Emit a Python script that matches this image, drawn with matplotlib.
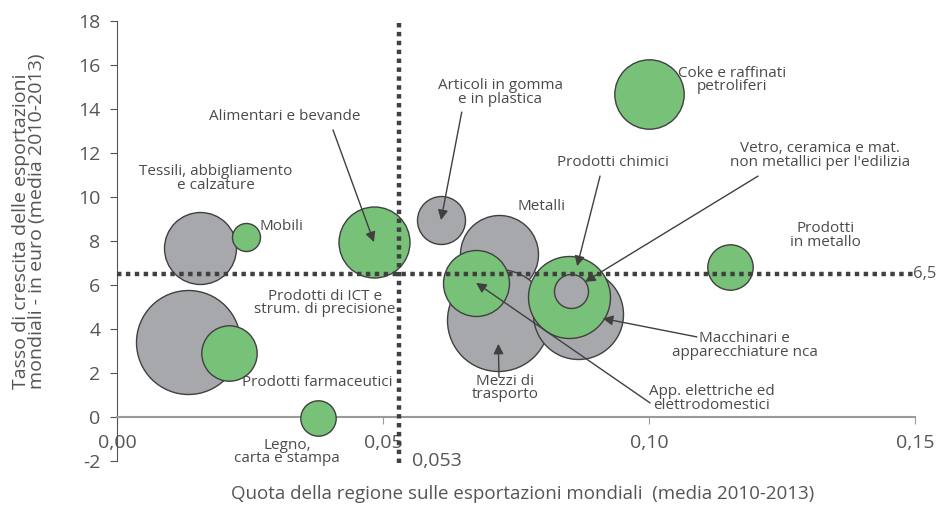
import matplotlib.pyplot as plt

plt.rcParams["font.family"] = ["Open Sans", "DejaVu Sans"]
plt.rcParams["axes.unicode_minus"] = False

# Settori: quota sulle esportazioni mondiali, tasso di crescita, dimensione bolla
SETTORI = [
    "Metalli", "Mezzi di trasporto", "Macchinari e apparecchiature nca",
    "Prodotti di ICT e strum. di precisione", "Tessili, abbigliamento e calzature",
    "Articoli in gomma e in plastica",
    "Mobili", "Alimentari e bevande", "Prodotti farmaceutici",
    "Legno, carta e stampa", "App. elettriche ed elettrodomestici",
    "Prodotti chimici", "Prodotti in metallo", "Coke e raffinati petroliferi",
    "Vetro, ceramica e mat. non metallici per l'edilizia",
]
QUOTA = [0.0718, 0.0716, 0.0867, 0.0133, 0.0156, 0.0609,
         0.0242, 0.0483, 0.0211, 0.0378, 0.0675, 0.0850, 0.1152, 0.1000,
         0.0853]
CRESCITA = [7.4, 4.4, 4.7, 3.4, 7.7, 8.95,
            8.2, 7.95, 2.9, -0.05, 6.1, 5.45, 6.8, 14.7,
            5.75]
DIMENSIONE = [39, 51, 45, 52, 36, 24,
              14, 35.5, 27.7, 17.7, 33, 41, 22.7, 34.7,
              17]
SPECIALIZZATO = [False, False, False, False, False, False,
                 True, True, True, True, True, True, True, True,
                 False]

SOGLIA_X = 0.053
SOGLIA_Y = 6.5

Y_TICKS = list(range(-2, 19, 2))
X_TICKS = [0.0, 0.05, 0.10, 0.15]
X_TICK_LABELS = ["0,00", "0,05", "0,10", "0,15"]

VERDE = "#78C178"
GRIGIO = "#A7A8AC"
BORDO = "#404040"
TESTO = "#555555"

fig = plt.figure(figsize=(9.39, 5.05), dpi=100)
ax = fig.add_axes([117 / 939, 44 / 505, 798 / 939, 440 / 505])
ax.set_xlim(0, 0.15)
ax.set_ylim(-2, 18)

for spine in ("top", "right"):
    ax.spines[spine].set_visible(False)
ax.spines["bottom"].set_position(("data", 0))
ax.spines["bottom"].set_color("#9a9a9a")
ax.spines["bottom"].set_linewidth(1.5)
ax.spines["left"].set_color(TESTO)

ax.set_yticks(Y_TICKS)
ax.set_yticklabels([str(v) for v in Y_TICKS])
ax.set_xticks(X_TICKS)
ax.set_xticklabels(X_TICK_LABELS)
ax.tick_params(axis="y", direction="out", length=5, pad=7, colors=TESTO, labelsize=14)
ax.tick_params(axis="x", direction="out", length=5, pad=7, colors="#9a9a9a",
               labelcolor=TESTO, labelsize=14)

# soglie
ax.plot([SOGLIA_X, SOGLIA_X], [-2.1, 18], color=BORDO, lw=3.2,
        linestyle=(0, (1, 1)), clip_on=False, zorder=5)
ax.plot([0, 0.15], [SOGLIA_Y, SOGLIA_Y], color=BORDO, lw=3.2,
        linestyle=(0, (1, 1)), clip_on=False, zorder=5)
ax.text(0.1497, SOGLIA_Y, "6,5", ha="left", va="center", fontsize=12, color=TESTO)
ax.text(0.0555, -2.0, "0,053", ha="left", va="center", fontsize=14, color=TESTO)

# bolle
for i, (x, y, r, spec) in enumerate(zip(QUOTA, CRESCITA, DIMENSIONE, SPECIALIZZATO)):
    ax.scatter(x, y, s=(2 * r * 0.72) ** 2, color=VERDE if spec else GRIGIO,
               edgecolor=BORDO, linewidth=1, zorder=3 + i * 0.01, clip_on=False)

# etichette (posizioni di layout)
kw = dict(fontsize=11, color="#4a4a4a", ha="center", va="center", linespacing=0.9, zorder=8)
ax.text(0.0316, 13.64, "Alimentari e bevande", **kw)
ax.text(0.0720, 14.77, "Articoli in gomma\ne in plastica", **kw)
ax.text(0.0932, 11.59, "Prodotti chimici", **kw)
ax.text(0.1321, 11.9, "Vetro, ceramica e mat.\nnon metallici per l'edilizia", **kw)
ax.text(0.0797, 9.59, "Metalli", **kw)
ax.text(0.1156, 15.32, "Coke e raffinati\npetroliferi", **kw)
ax.text(0.1331, 8.23, "Prodotti\nin metallo", **kw)
ax.text(0.0186, 10.86, "Tessili, abbigliamento\ne calzature", **kw)
ax.text(0.0267, 8.68, "Mobili", **{**kw, "ha": "left"})
ax.text(0.0391, 5.18, "Prodotti di ICT e\nstrum. di precisione", **kw)
ax.text(0.0376, 1.59, "Prodotti farmaceutici", **kw)
ax.text(0.0320, -1.59, "Legno,\ncarta e stampa", **kw)
ax.text(0.0729, 1.32, "Mezzi di\ntrasporto", **kw)
ax.text(0.1180, 3.23, "Macchinari e\napparecchiature nca", **kw)
ax.text(0.1118, 0.86, "App. elettriche ed\nelettrodomestici", **kw)

# frecce: (settore, partenza, accorciamento in punti)
FRECCE = [
    ("Alimentari e bevande", (0.0406, 13.05), 0),
    ("Articoli in gomma e in plastica", (0.0648, 13.86), 0),
    ("Prodotti chimici", (0.0908, 10.95), 23),
    ("Vetro, ceramica e mat. non metallici per l'edilizia", (0.1205, 10.95), 12),
    ("Mezzi di trasporto", (0.0718, 1.82), 17),
    ("Macchinari e apparecchiature nca", (0.1090, 3.64), 18),
    ("App. elettriche ed elettrodomestici", (0.1002, 0.64), 0),
]
for nome, start, accorcia in FRECCE:
    k = SETTORI.index(nome)
    ax.annotate("", xy=(QUOTA[k], CRESCITA[k]), xytext=start,
                arrowprops=dict(arrowstyle="-|>", color=BORDO, lw=1,
                                mutation_scale=15, shrinkA=0, shrinkB=accorcia),
                zorder=9)

fig.text(523 / 939, 1 - 494 / 505,
         "Quota della regione sulle esportazioni mondiali  (media 2010-2013)",
         ha="center", va="center", fontsize=13.5, color=TESTO)
fig.text(29 / 939, 1 - 389 / 505,
         "Tasso di crescita delle esportazioni\nmondiali - in euro (media 2010-2013)",
         rotation=90, ha="center", va="bottom", multialignment="left",
         fontsize=14, color=TESTO, linespacing=0.88)

fig.savefig("out.png", dpi=100)
